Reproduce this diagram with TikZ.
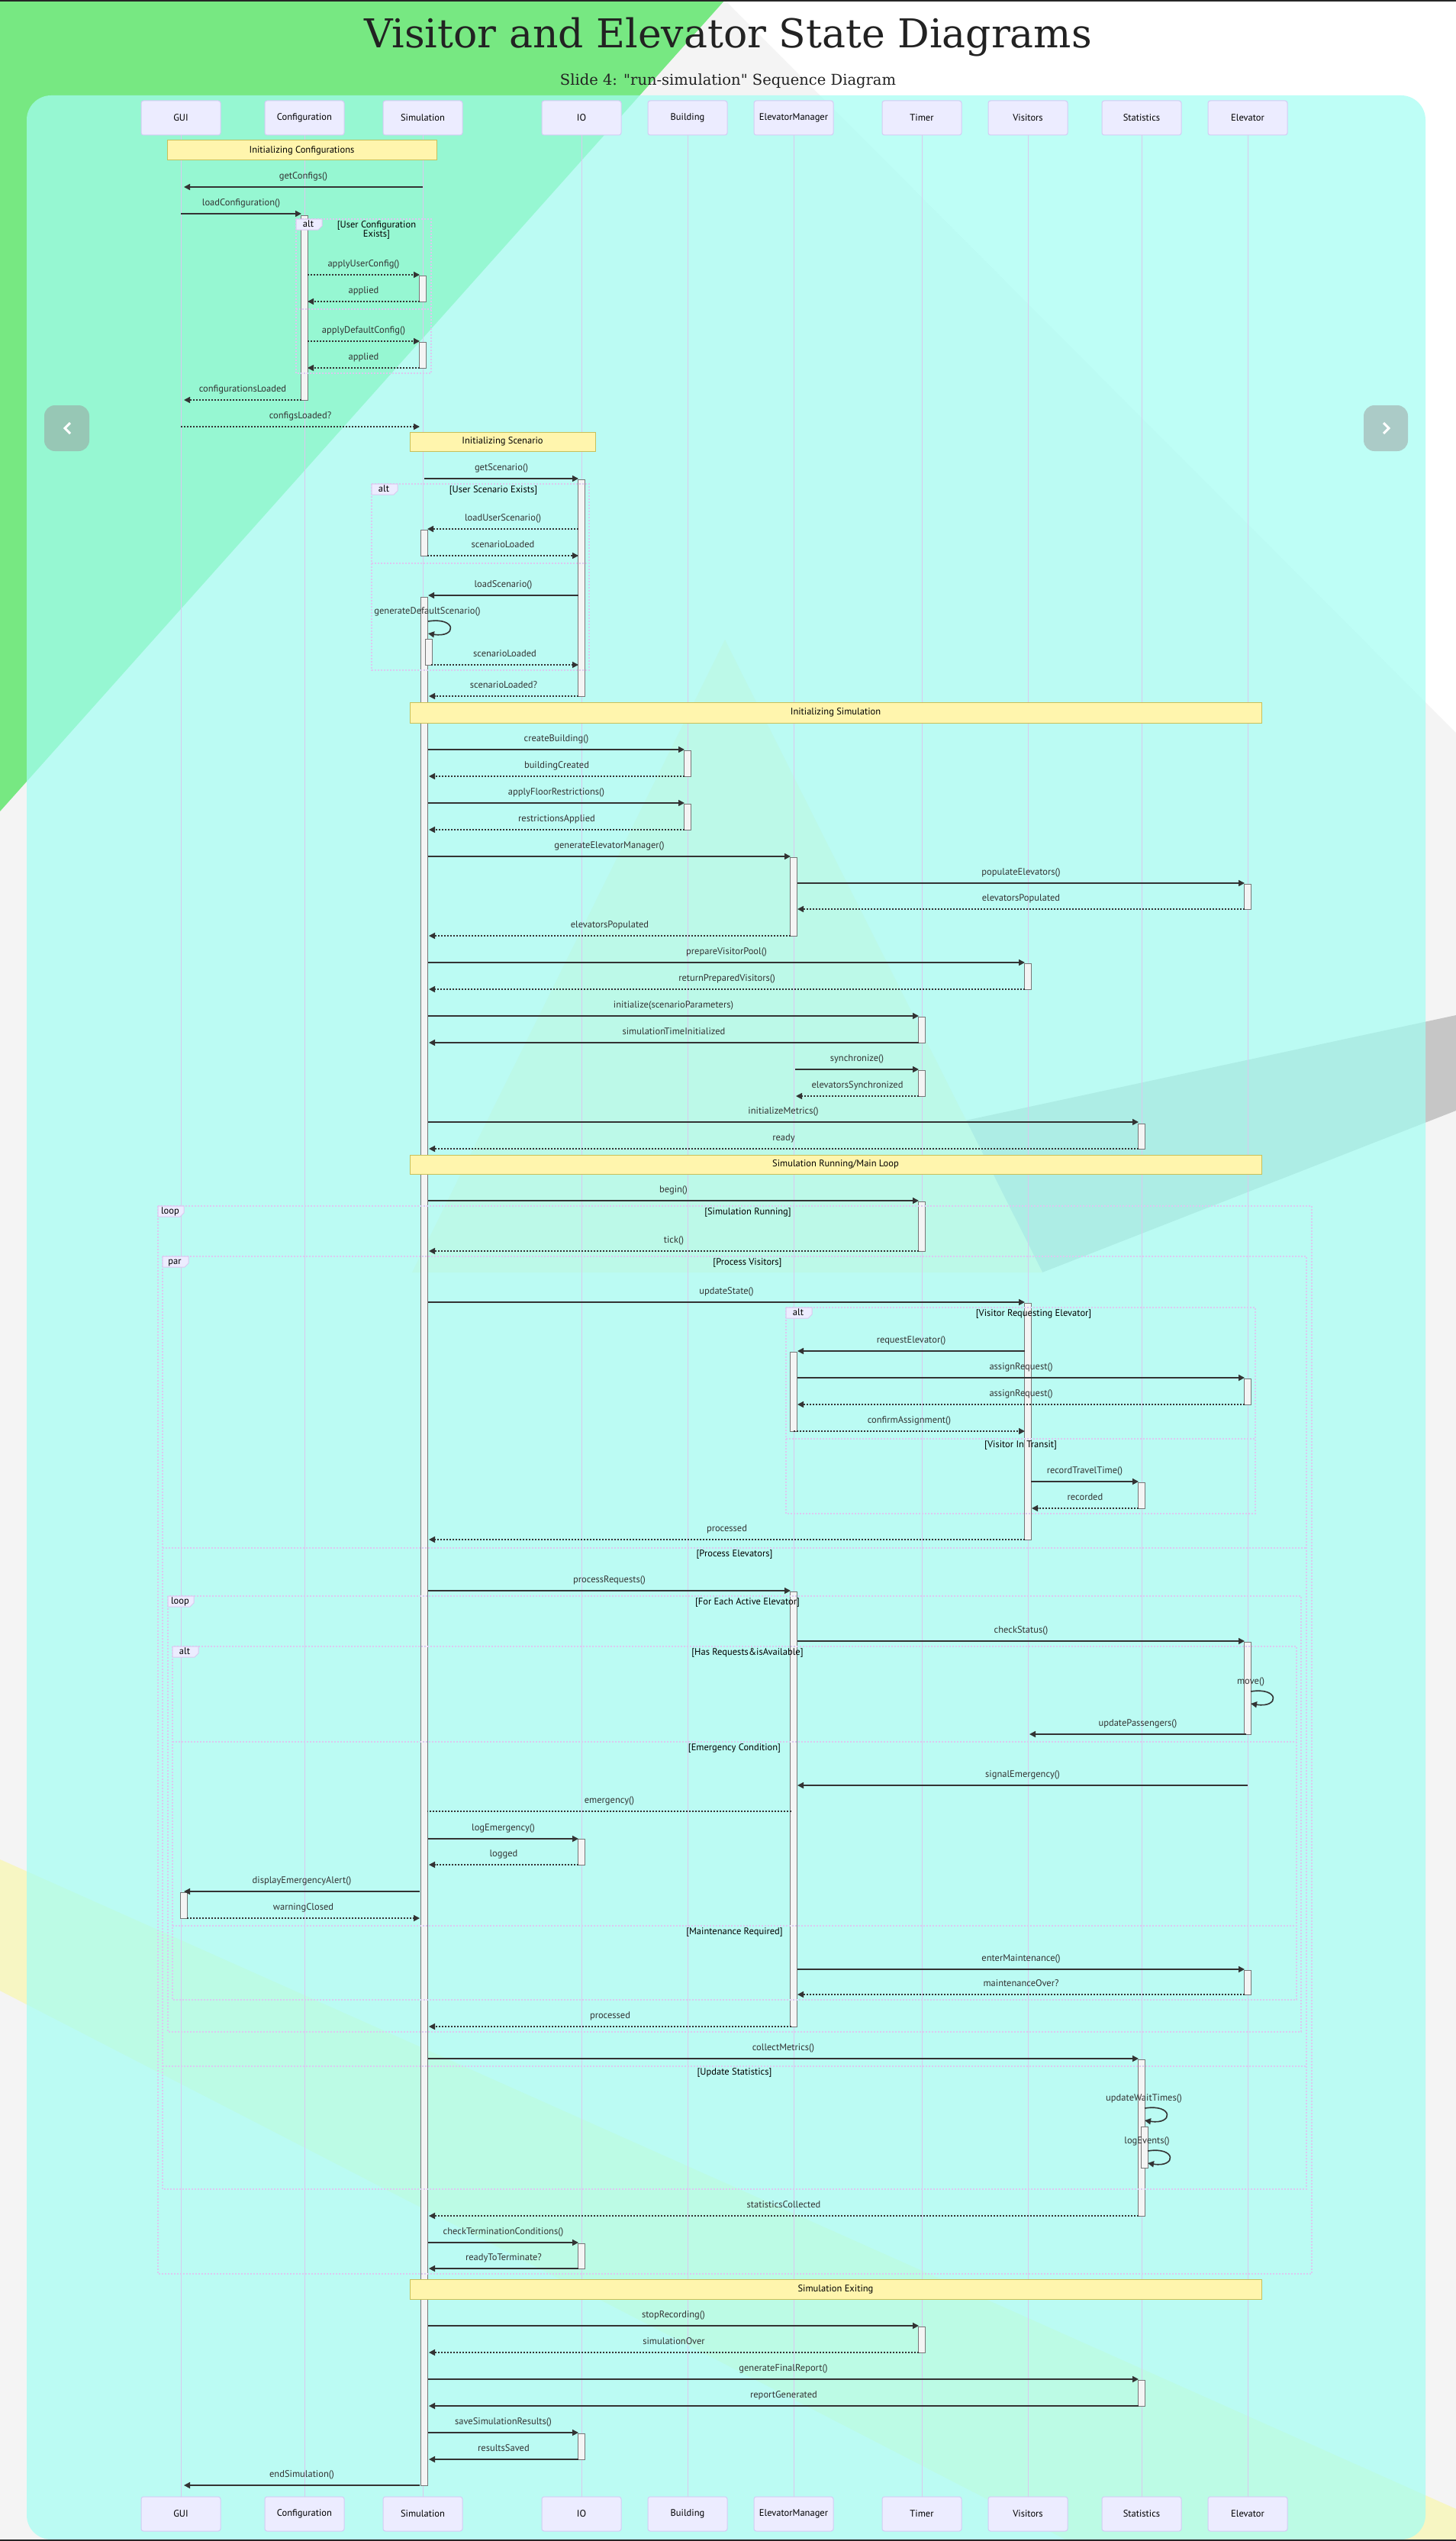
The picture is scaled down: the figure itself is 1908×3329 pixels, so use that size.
\documentclass[tikz,border=0pt]{standalone}
\usepackage{fontspec}
\usetikzlibrary{arrows.meta,calc}
\newfontfamily\titlefont{DejaVu Serif}
\newfontfamily\seqfont{PT Sans}

\definecolor{bggrey}{HTML}{F4F4F4}
\definecolor{leafgreen}{HTML}{77E882}
\definecolor{bandgrey}{HTML}{C6C6C6}
\definecolor{paleyellow}{HTML}{F7EDCE}
\definecolor{stripeyellow}{HTML}{F7F6C3}
\definecolor{panelcyan}{HTML}{A4FEF3}
\definecolor{actorfill}{HTML}{ECECFF}
\definecolor{actorline}{HTML}{D4CCF4}
\definecolor{lifecol}{HTML}{D9C9EE}
\definecolor{framecol}{HTML}{DCC8F0}
\definecolor{notefill}{HTML}{FFF5AD}
\definecolor{noteline}{HTML}{C8C05A}
\definecolor{ink}{HTML}{333333}
\definecolor{actfill}{HTML}{F4F4F4}
\definecolor{actline}{HTML}{777777}
\definecolor{titleink}{HTML}{222222}

\tikzset{
  actor/.style={draw=actorline, fill=actorfill, rounded corners=3pt, line width=1pt,
    minimum width=104pt, minimum height=45pt, inner sep=0pt,
    font=\seqfont\fontsize{12.5}{14}\selectfont, text=black},
  lifeln/.style={draw=lifecol, line width=1pt},
  notebox/.style={draw=noteline, fill=notefill, line width=1pt, inner sep=0pt,
    font=\seqfont\fontsize{12.5}{14}\selectfont, text=black},
  lbl/.style={font=\seqfont\fontsize{12.5}{14}\selectfont, text=ink, inner sep=0pt,
    text height=9pt, text depth=3pt},
  condlbl/.style={font=\seqfont\fontsize{12.5}{12}\selectfont, text=black, inner sep=0pt,
    align=center, anchor=north},
  call/.style={draw=ink, line width=1.6pt, -{Triangle[length=8pt,width=8pt]}},
  reply/.style={draw=ink, line width=1.6pt, dash pattern=on 2pt off 2pt,
    -{Triangle[length=8pt,width=8pt]}},
  dotline/.style={draw=ink, line width=1.6pt, dash pattern=on 2pt off 2pt},
  actbox/.style={draw=actline, fill=actfill, line width=0.8pt},
  frm/.style={draw=framecol, line width=1.2pt, dash pattern=on 2pt off 2pt},
  framelbl/.style={draw=framecol, fill=actorfill, line width=1pt},
}

\newcounter{lblc}
% message: style, y, from node, from dx, to node, to dx, label
\newcommand\seqmsg[7]{\stepcounter{lblc}%
  \draw[#1] ($(#3.center |- 0,#2)+(#4,0)$) -- node[lbl,yshift=14pt] (t\arabic{lblc}) {#7}
    ($(#5.center |- 0,#2)+(#6,0)$);}
% self message: y, node, dx, label, label dx
\newcommand\seqself[5]{\stepcounter{lblc}%
  \node[lbl] (t\arabic{lblc}) at ($(#2.center |- 0,#1)+(#5,-13)$) {#4};
  \draw[call] ($(#2.center |- 0,#1)+(#3,0)$) .. controls +(38,-6) and +(38,6) ..
    ($(#2.center |- 0,#1)+(#3,16)$);}
% activation bar: node, dx, y1, y2
\newcommand\seqact[4]{%
  \draw[actbox] ($(#1.center |- 0,#3)+(#2-4.5,0)$) rectangle ($(#1.center |- 0,#4)+(#2+4.5,0)$);}
% combined fragment: x1, y1, x2, y2, keyword, condition
\newcommand\seqframe[6]{\stepcounter{lblc}%
  \draw[frm] (#1,#2) rectangle (#3,#4);
  \draw[framelbl] (#1,#2) -- ++(34,0) -- ++(0,9) -- ++(-5,5) -- ++(-29,0) -- cycle;
  \node[lbl, text=black] (k\arabic{lblc}) at (#1+16,#2+7) {#5};
  \node[condlbl] (c\arabic{lblc}) at ({(#1+34+#3)/2},#2+2) {#6};}
% fragment separator: x1, x2, y, condition
\newcommand\seqsep[4]{\stepcounter{lblc}%
  \draw[frm] (#1,#3) -- (#2,#3);
  \node[condlbl] (s\arabic{lblc}) at ({(#1+#2)/2},#3+2) {#4};}

\begin{document}
\begin{tikzpicture}[x=1pt,y=-1pt]
\useasboundingbox (0,0) rectangle (1908,3329);

% ---------- backdrop ----------
\fill[bggrey] (0,0) rectangle (1908,3329);
\fill[white] (950,0) -- (1908,0) -- (1908,960) -- cycle;
\fill[leafgreen] (0,0) -- (950,0) -- (0,1063) -- cycle;
\fill[bandgrey] (1265,1468) -- (1908,1330) -- (1908,1455) -- (1366,1667) -- cycle;
\fill[paleyellow] (950,838) -- (1366,1667) -- (540,1667) -- cycle;
\fill[stripeyellow] (0,2436) -- (1908,3287) -- (1908,3329) -- (1400,3329) -- (0,2608) -- cycle;
\fill[panelcyan, opacity=0.71, rounded corners=32pt] (35,125) rectangle (1868,3327);
\fill[black!85] (0,0) rectangle (1908,2);
\fill[black!85] (0,3327) rectangle (1908,3329);

% slide navigation buttons
\fill[gray!80, opacity=0.5, rounded corners=14pt] (58,531) rectangle (117,591);
\draw[white, line width=3pt] (92,554) -- (85,561) -- (92,568);
\fill[gray!80, opacity=0.5, rounded corners=14pt] (1787,531) rectangle (1845,591);
\draw[white, line width=3pt] (1813,554) -- (1820,561) -- (1813,568);

% ---------- titles ----------
\node[font=\titlefont\fontsize{52}{60}\selectfont, text=titleink, anchor=base, inner sep=0pt]
  (title) at (954,63) {Visitor and Elevator State Diagrams};
\node[font=\titlefont\fontsize{19.5}{22}\selectfont, text=titleink, anchor=base, inner sep=0pt]
  (subtitle) at (954,112) {Slide 4: "run-simulation" Sequence Diagram};

% ---------- participants ----------
\foreach \n/\x/\t in {gui/237/GUI, cfg/399/Configuration, sim/554/Simulation, io/762/IO,
    bld/901/Building, em/1040/ElevatorManager, tim/1208/Timer, vis/1347/Visitors,
    sta/1496/Statistics, elv/1635/Elevator}{
  \node[actor] (\n) at (\x,154.5) {\t};
  \node[actor] (\n b) at (\x,3293.5) {\t};
  \draw[lifeln] (\n.south) -- (\n b.north);
}

% ---------- activation bars ----------
\seqact{cfg}{0}{282}{524}
\seqact{sim}{0}{361}{395}
\seqact{sim}{0}{448}{482}
\seqact{io}{0}{628}{912}
\seqact{sim}{2}{694}{728}
\seqact{sim}{2}{782}{3256}
\seqact{sim}{7.5}{837}{871}
\seqact{bld}{0}{983}{1017}
\seqact{bld}{0}{1053}{1087}
\seqact{em}{0}{1123}{1226}
\seqact{elv}{0}{1158}{1191}
\seqact{vis}{0}{1262}{1296}
\seqact{tim}{0}{1332}{1366}
\seqact{tim}{0}{1402}{1436}
\seqact{sta}{0}{1472}{1505}
\seqact{tim}{0}{1574}{1639}
\seqact{vis}{0}{1707}{2017}
\seqact{em}{0}{1771}{1875}
\seqact{elv}{0}{1806}{1840}
\seqact{sta}{0}{1942}{1976}
\seqact{em}{0}{2085}{2655}
\seqact{elv}{0}{2151}{2272}
\seqact{io}{0}{2409}{2443}
\seqact{gui}{4}{2479}{2513}
\seqact{elv}{0}{2581}{2613}
\seqact{sta}{0}{2698}{2903}
\seqact{sta}{4}{2786}{2840}
\seqact{io}{0}{2939}{2972}
\seqact{tim}{0}{3048}{3082}
\seqact{sta}{0}{3118}{3152}
\seqact{io}{0}{3188}{3222}

% ---------- combined fragments ----------
\seqframe{388}{287}{565}{489}{alt}{[User Configuration\\Exists]}
\seqsep{388}{565}{405}{}
\seqframe{487}{634}{772}{878}{alt}{[User Scenario Exists]}
\seqsep{487}{772}{738}{}
\seqframe{207}{1580}{1719}{2979}{loop}{[Simulation Running]}
\seqframe{213}{1646}{1712}{2868}{par}{[Process Visitors]}
\seqsep{213}{1712}{2028}{[Process Elevators]}
\seqsep{213}{1712}{2707}{[Update Statistics]}
\seqframe{1030}{1713}{1645}{1983}{alt}{[Visitor Requesting Elevator]}
\seqsep{1030}{1645}{1885}{[Visitor In Transit]}
\seqframe{220}{2091}{1705}{2662}{loop}{[For Each Active Elevator]}
\seqframe{226}{2157}{1699}{2620}{alt}{[Has Requests\&isAvailable]}
\seqsep{226}{1699}{2282}{[Emergency Condition]}
\seqsep{226}{1699}{2523}{[Maintenance Required]}

% ---------- section notes ----------
\node[notebox, minimum width=353pt, minimum height=26pt] (n1) at (395.5,197) {Initializing Configurations};
\node[notebox, minimum width=243pt, minimum height=25pt] (n2) at (658.5,578.5) {Initializing Scenario};
\node[notebox, minimum width=1116pt, minimum height=27pt] (n3) at (1095,933.5) {Initializing Simulation};
\node[notebox, minimum width=1116pt, minimum height=25pt] (n4) at (1095,1525.5) {Simulation Running/Main Loop};
\node[notebox, minimum width=1116pt, minimum height=26pt] (n5) at (1095,2999) {Simulation Exiting};

% ---------- messages ----------
\seqmsg{call}{245}{sim}{0}{gui}{4}{getConfigs()}
\seqmsg{call}{280}{gui}{0}{cfg}{-4}{loadConfiguration()}
\seqmsg{reply}{360}{cfg}{4}{sim}{-4}{applyUserConfig()}
\seqmsg{reply}{395}{sim}{-4}{cfg}{4}{applied}
\seqmsg{reply}{447}{cfg}{4}{sim}{-4}{applyDefaultConfig()}
\seqmsg{reply}{482}{sim}{-4}{cfg}{4}{applied}
\seqmsg{reply}{524}{cfg}{-4}{gui}{4}{configurationsLoaded}
\seqmsg{reply}{559}{gui}{0}{sim}{-4}{configsLoaded?}
\seqmsg{call}{627}{sim}{2}{io}{-4}{getScenario()}
\seqmsg{reply}{693}{io}{-4}{sim}{6}{loadUserScenario()}
\seqmsg{reply}{728}{sim}{6}{io}{-4}{scenarioLoaded}
\seqmsg{call}{780}{io}{-4}{sim}{7}{loadScenario()}
\seqself{814}{sim}{7}{generateDefaultScenario()}{6}
\seqmsg{reply}{871}{sim}{11}{io}{-4}{scenarioLoaded}
\seqmsg{reply}{912}{io}{-4}{sim}{8}{scenarioLoaded?}
\seqmsg{call}{982}{sim}{7}{bld}{-4}{createBuilding()}
\seqmsg{reply}{1017}{bld}{-4}{sim}{8}{buildingCreated}
\seqmsg{call}{1052}{sim}{7}{bld}{-4}{applyFloorRestrictions()}
\seqmsg{reply}{1087}{bld}{-4}{sim}{8}{restrictionsApplied}
\seqmsg{call}{1122}{sim}{7}{em}{-4}{generateElevatorManager()}
\seqmsg{call}{1157}{em}{5}{elv}{-4}{populateElevators()}
\seqmsg{reply}{1191}{elv}{-4}{em}{5}{elevatorsPopulated}
\seqmsg{reply}{1226}{em}{-4}{sim}{8}{elevatorsPopulated}
\seqmsg{call}{1261}{sim}{7}{vis}{-4}{prepareVisitorPool()}
\seqmsg{reply}{1296}{vis}{-4}{sim}{8}{returnPreparedVisitors()}
\seqmsg{call}{1331}{sim}{7}{tim}{-4}{initialize(scenarioParameters)}
\seqmsg{call}{1366}{tim}{-4}{sim}{8}{simulationTimeInitialized}
\seqmsg{call}{1401}{em}{2}{tim}{-4}{synchronize()}
\seqmsg{reply}{1436}{tim}{-4}{em}{3}{elevatorsSynchronized}
\seqmsg{call}{1470}{sim}{7}{sta}{-4}{initializeMetrics()}
\seqmsg{reply}{1505}{sta}{-4}{sim}{8}{ready}
\seqmsg{call}{1573}{sim}{7}{tim}{-4}{begin()}
\seqmsg{reply}{1639}{tim}{-4}{sim}{8}{tick()}
\seqmsg{call}{1706}{sim}{7}{vis}{-4}{updateState()}
\seqmsg{call}{1770}{vis}{-4}{em}{5}{requestElevator()}
\seqmsg{call}{1805}{em}{5}{elv}{-4}{assignRequest()}
\seqmsg{reply}{1840}{elv}{-4}{em}{5}{assignRequest()}
\seqmsg{reply}{1875}{em}{0}{vis}{-4}{confirmAssignment()}
\seqmsg{call}{1941}{vis}{4}{sta}{-4}{recordTravelTime()}
\seqmsg{reply}{1976}{sta}{-4}{vis}{5}{recorded}
\seqmsg{reply}{2017}{vis}{-4}{sim}{8}{processed}
\seqmsg{call}{2084}{sim}{7}{em}{-4}{processRequests()}
\seqmsg{call}{2150}{em}{5}{elv}{-4}{checkStatus()}
\seqself{2216}{elv}{4}{move()}{4}
\seqmsg{call}{2272}{elv}{-2}{vis}{2}{updatePassengers()}
\seqmsg{call}{2339}{elv}{0}{em}{5}{signalEmergency()}
\seqmsg{dotline}{2373}{em}{-3}{sim}{6}{emergency()}
\seqmsg{call}{2409}{sim}{7}{io}{-4}{logEmergency()}
\seqmsg{reply}{2443}{io}{-4}{sim}{8}{logged}
\seqmsg{call}{2478}{sim}{-4}{gui}{4}{displayEmergencyAlert()}
\seqmsg{reply}{2513}{gui}{8}{sim}{-4}{warningClosed}
\seqmsg{call}{2580}{em}{5}{elv}{-4}{enterMaintenance()}
\seqmsg{reply}{2613}{elv}{-4}{em}{5}{maintenanceOver?}
\seqmsg{reply}{2655}{em}{-3}{sim}{8}{processed}
\seqmsg{call}{2697}{sim}{7}{sta}{-4}{collectMetrics()}
\seqself{2762}{sta}{4}{updateWaitTimes()}{3}
\seqself{2818}{sta}{8}{logEvents()}{7}
\seqmsg{reply}{2903}{sta}{-4}{sim}{8}{statisticsCollected}
\seqmsg{call}{2938}{sim}{7}{io}{-4}{checkTerminationConditions()}
\seqmsg{call}{2972}{io}{-4}{sim}{8}{readyToTerminate?}
\seqmsg{call}{3047}{sim}{7}{tim}{-4}{stopRecording()}
\seqmsg{reply}{3082}{tim}{-4}{sim}{8}{simulationOver}
\seqmsg{call}{3117}{sim}{7}{sta}{-4}{generateFinalReport()}
\seqmsg{call}{3152}{sta}{-4}{sim}{8}{reportGenerated}
\seqmsg{call}{3187}{sim}{7}{io}{-4}{saveSimulationResults()}
\seqmsg{call}{3222}{io}{-4}{sim}{8}{resultsSaved}
\seqmsg{call}{3256}{sim}{-4}{gui}{4}{endSimulation()}

\end{tikzpicture}
\end{document}
